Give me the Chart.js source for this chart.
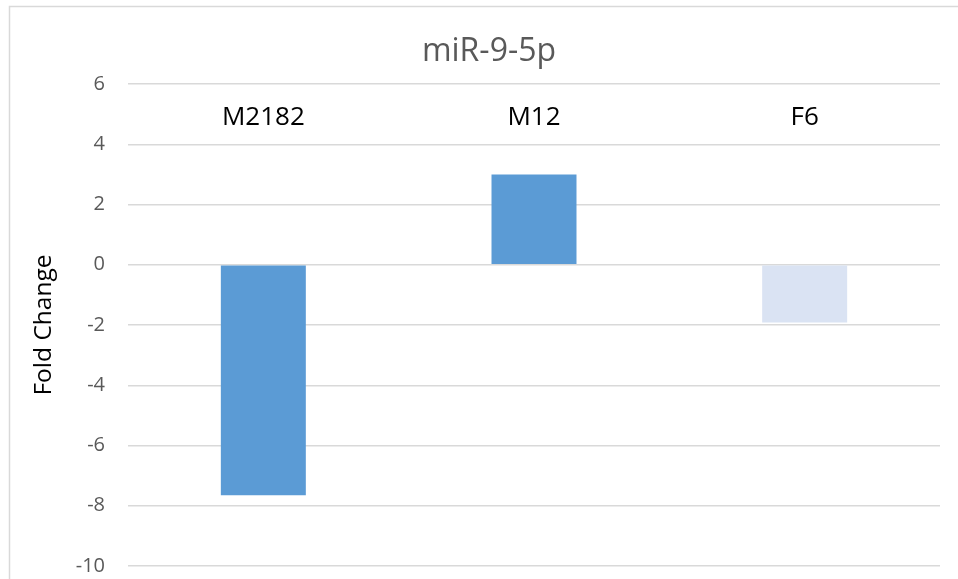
<!DOCTYPE html>
<html>
<head>
<meta charset="utf-8">
<script src="https://cdn.jsdelivr.net/npm/chart.js@4/dist/chart.umd.min.js"></script>
<style>
  html, body { margin: 0; padding: 0; background: #fff; }
  canvas { display: block; }
</style>
</head>
<body>
<canvas id="chart" width="958" height="579"></canvas>
<script>
// Samples and their miR-9-5p fold change
const categories = ['M2182', 'M12', 'F6'];
const foldChange = [-7.65, 3.0, -1.92];
const barColors = ['#5B9BD5', '#5B9BD5', '#DAE3F3'];

// Value axis range and step
const yMin = -10;
const yMax = 6;
const yStep = 2;

const FONT = "'Open Sans', 'Liberation Sans', sans-serif";

// Light frame around the chart
const framePlugin = {
  id: 'frame',
  beforeDraw(chart) {
    const ctx = chart.ctx;
    ctx.save();
    ctx.fillStyle = '#ffffff';
    ctx.fillRect(0, 0, chart.width, chart.height);
    ctx.strokeStyle = '#D9D9D9';
    ctx.lineWidth = 1.5;
    ctx.strokeRect(9.5, 6.5, chart.width + 50, chart.height + 50);
    ctx.restore();
  }
};

// Sample names written inside the plot, above each bar
const categoryLabelPlugin = {
  id: 'categoryLabels',
  afterDatasetsDraw(chart, args, opts) {
    const ctx = chart.ctx;
    const xs = chart.scales.x;
    const ys = chart.scales.y;
    ctx.save();
    ctx.font = opts.size + 'px ' + FONT;
    ctx.fillStyle = opts.color;
    ctx.textAlign = 'center';
    ctx.textBaseline = 'middle';
    categories.forEach((name, i) => {
      ctx.fillText(name, xs.getPixelForValue(i), ys.getPixelForValue(opts.level));
    });
    ctx.restore();
  }
};

new Chart(document.getElementById('chart'), {
  type: 'bar',
  data: {
    labels: categories,
    datasets: [{
      label: 'miR-9-5p',
      data: foldChange,
      backgroundColor: barColors,
      borderWidth: 0,
      categoryPercentage: 1,
      barPercentage: 0.314
    }]
  },
  options: {
    responsive: false,
    animation: false,
    layout: { padding: { top: 10, left: 38, right: 18, bottom: 13 } },
    plugins: {
      legend: { display: false },
      tooltip: { enabled: false },
      title: {
        display: true,
        text: 'miR-9-5p',
        color: '#595959',
        font: { family: FONT, size: 32, weight: 'normal' },
        padding: { top: 22.8, bottom: 12.8 }
      },
      categoryLabels: { level: 4.9, size: 26, color: '#000000' }
    },
    scales: {
      x: {
        display: false,
        grid: { display: false }
      },
      y: {
        min: yMin,
        max: yMax,
        afterFit(scale) {
          scale.width = 90;
          // only half a label of overhang at the ends, not the label gap too
          scale.paddingTop = 12;
          scale.paddingBottom = 12;
        },
        border: { display: false },
        grid: { color: '#D9D9D9', lineWidth: 1.5, drawTicks: false },
        ticks: {
          stepSize: yStep,
          padding: 23,
          color: '#595959',
          font: { family: FONT, size: 20 }
        },
        title: {
          display: true,
          text: 'Fold Change',
          color: '#000000',
          font: { family: FONT, size: 24.5 },
          padding: { top: -8.5, bottom: 0 }
        }
      }
    }
  },
  plugins: [framePlugin, categoryLabelPlugin]
});
</script>
</body>
</html>
